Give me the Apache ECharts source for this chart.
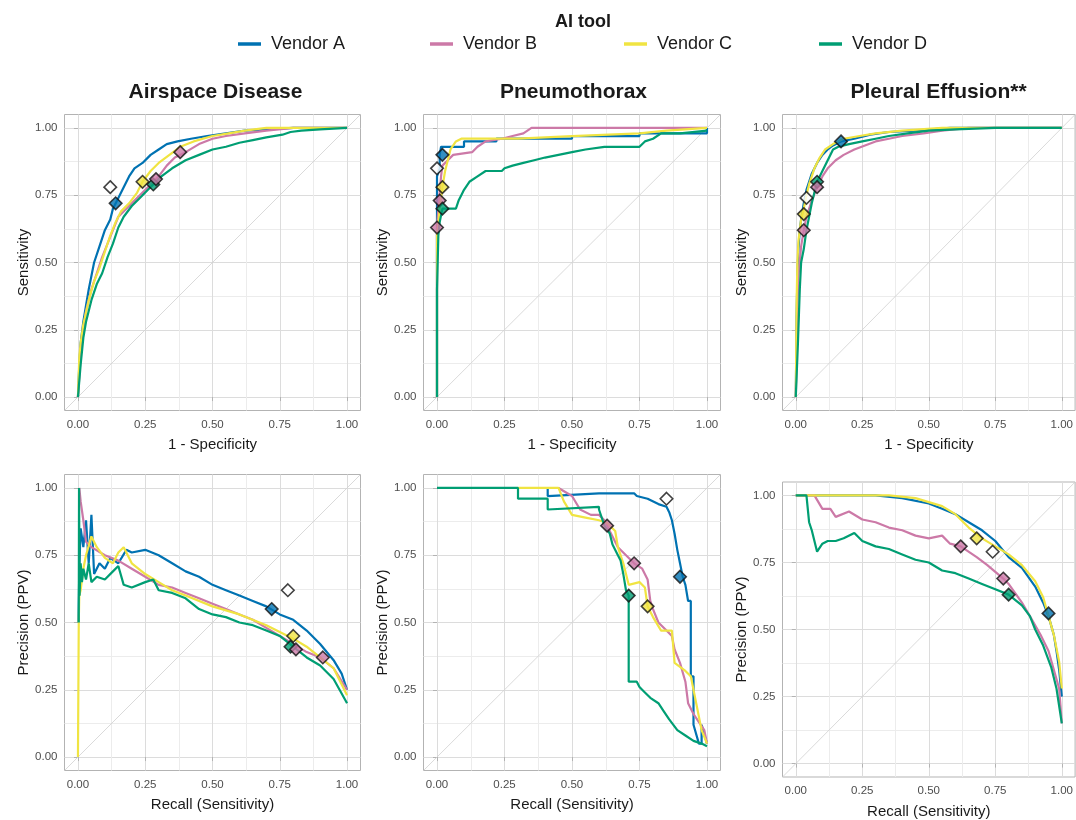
<!DOCTYPE html>
<html><head><meta charset="utf-8">
<script src="https://cdn.jsdelivr.net/npm/echarts@6/dist/echarts.min.js"></script>
<style>html,body{margin:0;padding:0;background:#fff}#c{width:1076px;height:820px}</style>
</head><body><div id="c"></div>
<script>
// ---------- DATA ----------
const vendors = ['Vendor A', 'Vendor B', 'Vendor C', 'Vendor D'];
const panelTitles = ['Airspace Disease', 'Pneumothorax', 'Pleural Effusion**'];
const xNames = ['1 - Specificity', 'Recall (Sensitivity)'];
const yNames = ['Sensitivity', 'Precision (PPV)'];
const tickValues = [0, 0.25, 0.5, 0.75, 1];
const minorGridValues = [0.125, 0.375, 0.625, 0.875];

// ROC - Airspace Disease
const rocAirA = [[0,0],[0.005,0.12],[0.01,0.2],[0.02,0.28],[0.03,0.34],[0.04,0.4],[0.05,0.45],[0.06,0.5],[0.08,0.56],[0.1,0.62],[0.12,0.66],[0.13,0.7],[0.15,0.74],[0.17,0.78],[0.19,0.82],[0.21,0.85],[0.24,0.87],[0.27,0.9],[0.3,0.92],[0.33,0.94],[0.37,0.95],[0.42,0.96],[0.48,0.97],[0.55,0.98],[0.62,0.99],[0.7,0.995],[0.8,1],[1,1]];
const rocAirB = [[0,0],[0.01,0.15],[0.02,0.25],[0.03,0.32],[0.05,0.4],[0.07,0.46],[0.09,0.52],[0.11,0.57],[0.13,0.62],[0.15,0.67],[0.18,0.7],[0.21,0.73],[0.24,0.76],[0.27,0.79],[0.3,0.82],[0.33,0.86],[0.36,0.89],[0.4,0.91],[0.45,0.94],[0.5,0.96],[0.55,0.97],[0.62,0.98],[0.7,0.99],[0.8,1],[1,1]];
const rocAirC = [[0,0],[0.005,0.15],[0.01,0.2],[0.02,0.27],[0.04,0.36],[0.06,0.43],[0.08,0.48],[0.1,0.54],[0.12,0.6],[0.14,0.65],[0.16,0.69],[0.19,0.72],[0.22,0.76],[0.24,0.8],[0.27,0.84],[0.3,0.87],[0.34,0.9],[0.38,0.93],[0.43,0.95],[0.5,0.97],[0.56,0.98],[0.62,0.99],[0.7,1],[1,1]];
const rocAirD = [[0,0],[0.01,0.12],[0.02,0.22],[0.03,0.28],[0.05,0.36],[0.07,0.42],[0.09,0.46],[0.11,0.52],[0.13,0.57],[0.15,0.63],[0.17,0.67],[0.2,0.71],[0.23,0.74],[0.26,0.77],[0.28,0.79],[0.31,0.82],[0.35,0.85],[0.4,0.88],[0.45,0.9],[0.5,0.92],[0.55,0.93],[0.6,0.945],[0.65,0.955],[0.7,0.965],[0.76,0.975],[0.79,0.985],[0.83,0.99],[0.9,0.995],[1,1]];
// ROC - Pneumothorax
const rocPnxA = [[0,0],[0,0.6],[0,0.82],[0.01,0.85],[0.01,0.9],[0.015,0.93],[0.1,0.93],[0.1,0.95],[0.22,0.95],[0.22,0.96],[0.5,0.96],[0.5,0.97],[0.75,0.97],[0.75,0.98],[1,0.98],[1,1]];
const rocPnxB = [[0,0],[0,0.55],[0,0.63],[0.005,0.7],[0.01,0.76],[0.015,0.82],[0.02,0.86],[0.04,0.88],[0.06,0.9],[0.13,0.91],[0.15,0.93],[0.18,0.95],[0.24,0.96],[0.28,0.97],[0.32,0.98],[0.35,1],[1,1]];
const rocPnxC = [[0,0],[0,0.6],[0.01,0.7],[0.02,0.78],[0.03,0.84],[0.04,0.88],[0.05,0.92],[0.07,0.95],[0.09,0.96],[0.3,0.96],[0.5,0.97],[0.75,0.98],[0.85,0.99],[1,1]];
const rocPnxD = [[0,0],[0,0.4],[0.005,0.6],[0.01,0.65],[0.02,0.7],[0.07,0.7],[0.08,0.73],[0.09,0.75],[0.1,0.77],[0.12,0.8],[0.15,0.82],[0.18,0.84],[0.24,0.84],[0.25,0.85],[0.28,0.86],[0.32,0.87],[0.36,0.88],[0.4,0.89],[0.45,0.9],[0.5,0.91],[0.55,0.92],[0.62,0.93],[0.75,0.93],[0.77,0.95],[0.8,0.96],[0.83,0.98],[0.9,0.98],[1,0.99]];
// ROC - Pleural Effusion
const rocPleA = [[0,0],[0.003,0.3],[0.006,0.45],[0.01,0.55],[0.015,0.62],[0.02,0.66],[0.03,0.72],[0.04,0.77],[0.05,0.8],[0.06,0.83],[0.08,0.87],[0.1,0.9],[0.12,0.92],[0.14,0.935],[0.17,0.95],[0.22,0.96],[0.28,0.975],[0.35,0.985],[0.45,0.99],[0.58,1],[1,1]];
const rocPleB = [[0,0],[0.005,0.3],[0.01,0.45],[0.02,0.56],[0.03,0.62],[0.04,0.67],[0.06,0.73],[0.08,0.78],[0.1,0.82],[0.12,0.85],[0.15,0.88],[0.18,0.9],[0.22,0.92],[0.26,0.935],[0.3,0.95],[0.35,0.96],[0.4,0.97],[0.48,0.98],[0.55,0.99],[0.65,1],[1,1]];
const rocPleC = [[0,0],[0.003,0.35],[0.006,0.5],[0.01,0.58],[0.02,0.66],[0.03,0.7],[0.04,0.75],[0.05,0.79],[0.07,0.85],[0.09,0.89],[0.11,0.92],[0.14,0.94],[0.18,0.96],[0.24,0.97],[0.3,0.98],[0.4,0.99],[0.55,1],[1,1]];
const rocPleD = [[0,0],[0.008,0.2],[0.015,0.4],[0.02,0.5],[0.03,0.55],[0.04,0.62],[0.05,0.67],[0.06,0.72],[0.07,0.76],[0.08,0.8],[0.1,0.84],[0.12,0.88],[0.14,0.92],[0.16,0.93],[0.2,0.94],[0.25,0.95],[0.3,0.96],[0.35,0.97],[0.42,0.98],[0.5,0.99],[0.6,0.995],[0.75,1],[1,1]];
// PR - Airspace Disease
const prAirA = [[0.002,0.5],[0.005,0.7],[0.01,0.85],[0.02,0.78],[0.03,0.88],[0.04,0.72],[0.05,0.9],[0.06,0.68],[0.08,0.72],[0.1,0.7],[0.12,0.74],[0.15,0.72],[0.18,0.77],[0.2,0.76],[0.25,0.77],[0.3,0.75],[0.35,0.72],[0.4,0.69],[0.45,0.67],[0.5,0.64],[0.55,0.62],[0.6,0.6],[0.65,0.58],[0.7,0.56],[0.75,0.53],[0.8,0.51],[0.85,0.47],[0.9,0.42],[0.95,0.36],[0.98,0.31],[1,0.25]];
const prAirB = [[0.005,1],[0.01,0.95],[0.02,0.88],[0.03,0.8],[0.05,0.78],[0.1,0.75],[0.15,0.73],[0.2,0.7],[0.25,0.67],[0.3,0.64],[0.35,0.63],[0.4,0.61],[0.45,0.59],[0.5,0.57],[0.55,0.55],[0.6,0.53],[0.65,0.51],[0.7,0.48],[0.75,0.45],[0.8,0.42],[0.85,0.39],[0.9,0.37],[0.95,0.33],[1,0.25]];
const prAirC = [[0,0],[0.003,0.5],[0.005,0.6],[0.01,0.62],[0.02,0.7],[0.03,0.75],[0.05,0.82],[0.07,0.78],[0.1,0.74],[0.13,0.72],[0.15,0.76],[0.17,0.78],[0.2,0.72],[0.25,0.68],[0.3,0.65],[0.35,0.62],[0.4,0.6],[0.5,0.56],[0.6,0.53],[0.7,0.49],[0.8,0.44],[0.85,0.41],[0.9,0.37],[0.95,0.33],[1,0.23]];
const prAirD = [[0.003,0.5],[0.004,1],[0.006,0.6],[0.01,0.72],[0.015,0.65],[0.02,0.7],[0.03,0.66],[0.04,0.72],[0.05,0.65],[0.07,0.67],[0.1,0.66],[0.13,0.69],[0.15,0.71],[0.17,0.64],[0.2,0.63],[0.25,0.65],[0.28,0.66],[0.3,0.62],[0.35,0.61],[0.4,0.59],[0.45,0.55],[0.5,0.53],[0.55,0.52],[0.6,0.5],[0.65,0.49],[0.7,0.47],[0.75,0.45],[0.8,0.41],[0.85,0.37],[0.9,0.34],[0.95,0.29],[1,0.2]];
// PR - Pneumothorax
const prPnxA = [[0.41,1],[0.41,0.97],[0.6,0.98],[0.73,0.98],[0.74,0.97],[0.78,0.96],[0.82,0.94],[0.85,0.93],[0.86,0.91],[0.87,0.88],[0.88,0.83],[0.89,0.77],[0.9,0.72],[0.91,0.67],[0.92,0.64],[0.93,0.58],[0.94,0.58],[0.94,0.3],[0.95,0.3],[0.95,0.12],[0.97,0.05],[0.98,0.05],[0.98,0.12],[1,0.05]];
const prPnxB = [[0.45,1],[0.5,0.97],[0.53,0.92],[0.57,0.9],[0.6,0.9],[0.62,0.88],[0.63,0.86],[0.65,0.82],[0.67,0.78],[0.7,0.75],[0.73,0.72],[0.76,0.7],[0.78,0.66],[0.79,0.58],[0.8,0.55],[0.82,0.5],[0.85,0.47],[0.87,0.45],[0.88,0.4],[0.9,0.35],[0.92,0.28],[0.93,0.2],[0.95,0.16],[0.97,0.13],[0.99,0.1],[1,0.05]];
const prPnxC = [[0.3,1],[0.45,1],[0.47,0.95],[0.5,0.9],[0.55,0.89],[0.6,0.88],[0.63,0.87],[0.66,0.84],[0.67,0.78],[0.69,0.72],[0.71,0.64],[0.75,0.65],[0.77,0.63],[0.78,0.56],[0.8,0.52],[0.83,0.47],[0.87,0.47],[0.88,0.35],[0.92,0.32],[0.94,0.3],[0.96,0.2],[0.98,0.1],[1,0.05]];
const prPnxD = [[0,1],[0.3,1],[0.3,0.96],[0.41,0.96],[0.41,0.92],[0.6,0.93],[0.6,0.92],[0.62,0.86],[0.64,0.83],[0.65,0.79],[0.67,0.75],[0.68,0.73],[0.69,0.68],[0.7,0.62],[0.71,0.6],[0.71,0.28],[0.74,0.28],[0.75,0.26],[0.77,0.24],[0.79,0.22],[0.82,0.2],[0.84,0.17],[0.86,0.14],[0.89,0.1],[0.92,0.08],[0.95,0.06],[0.98,0.05],[1,0.04]];
// PR - Pleural Effusion
const prPleA = [[0,1],[0.3,1],[0.4,0.99],[0.5,0.97],[0.55,0.95],[0.6,0.93],[0.65,0.9],[0.7,0.87],[0.75,0.83],[0.8,0.77],[0.85,0.73],[0.9,0.66],[0.93,0.6],[0.95,0.55],[0.97,0.48],[0.98,0.42],[0.99,0.35],[1,0.25]];
const prPleB = [[0,1],[0.07,1],[0.1,0.95],[0.13,0.95],[0.15,0.92],[0.2,0.94],[0.25,0.91],[0.3,0.9],[0.35,0.88],[0.4,0.87],[0.45,0.85],[0.5,0.84],[0.55,0.85],[0.58,0.82],[0.62,0.81],[0.68,0.77],[0.72,0.74],[0.78,0.69],[0.8,0.67],[0.85,0.6],[0.88,0.55],[0.92,0.48],[0.95,0.42],[0.97,0.35],[0.99,0.28],[1,0.15]];
const prPleC = [[0,1],[0.35,1],[0.45,0.99],[0.55,0.96],[0.6,0.93],[0.65,0.88],[0.7,0.84],[0.75,0.81],[0.8,0.78],[0.85,0.74],[0.9,0.68],[0.93,0.62],[0.95,0.55],[0.97,0.48],[0.99,0.38],[1,0.28]];
const prPleD = [[0,1],[0.04,1],[0.05,0.9],[0.06,0.87],[0.07,0.83],[0.08,0.79],[0.1,0.82],[0.12,0.83],[0.15,0.83],[0.18,0.84],[0.22,0.86],[0.25,0.83],[0.3,0.81],[0.35,0.8],[0.4,0.78],[0.45,0.76],[0.5,0.75],[0.55,0.72],[0.6,0.71],[0.65,0.69],[0.7,0.67],[0.75,0.65],[0.8,0.63],[0.85,0.59],[0.88,0.55],[0.9,0.5],[0.93,0.44],[0.96,0.36],[0.98,0.28],[1,0.15]];

// Operating points: [x, y, group]  group 0-3 = vendor A-D, 4 = reference (white)
const opRocAir = [[0.12,0.78,4],[0.14,0.72,0],[0.24,0.80,2],[0.28,0.79,3],[0.29,0.81,1],[0.38,0.91,1]];
const opRocPnx = [[0.0,0.85,4],[0.02,0.90,0],[0.02,0.78,2],[0.01,0.73,1],[0.02,0.70,3],[0.0,0.63,1]];
const opRocPle = [[0.17,0.95,0],[0.08,0.80,3],[0.08,0.78,1],[0.04,0.74,4],[0.03,0.68,2],[0.03,0.62,1]];
const opPrAir = [[0.78,0.62,4],[0.72,0.55,0],[0.80,0.45,2],[0.79,0.41,3],[0.81,0.40,1],[0.91,0.37,1]];
const opPrPnx = [[0.85,0.96,4],[0.63,0.86,1],[0.73,0.72,1],[0.90,0.67,0],[0.71,0.60,3],[0.78,0.56,2]];
const opPrPle = [[0.68,0.84,2],[0.74,0.79,4],[0.62,0.81,1],[0.78,0.69,1],[0.80,0.63,3],[0.95,0.56,0]];

// ---------- BUILD ----------
const colors = ['#0072B2', '#CC79A7', '#F0E442', '#009E73', '#FFFFFF'];
const curves = [
  [rocAirA, rocAirB, rocAirC, rocAirD],
  [rocPnxA, rocPnxB, rocPnxC, rocPnxD],
  [rocPleA, rocPleB, rocPleC, rocPleD],
  [prAirA, prAirB, prAirC, prAirD],
  [prPnxA, prPnxB, prPnxC, prPnxD],
  [prPleA, prPleB, prPleC, prPleD]
];
const ops = [opRocAir, opRocPnx, opRocPle, opPrAir, opPrPnx, opPrPle];
const layout = [
  {left: 64.5, top: 114.5, width: 296, height: 296},
  {left: 423.5, top: 114.5, width: 297, height: 296},
  {left: 782.5, top: 114.5, width: 295, height: 296},
  {left: 64.5, top: 474.5, width: 296, height: 296},
  {left: 423.5, top: 474.5, width: 297, height: 296},
  {left: 782.5, top: 482, width: 295, height: 297}
];
const FONT = 'Liberation Sans, Arial, sans-serif';
const grids = [], xAxes = [], yAxes = [], series = [];
layout.forEach((g, i) => {
  const row = Math.floor(i / 3);
  grids.push(Object.assign({show: true, borderColor: '#b3b3b3', borderWidth: 1, backgroundColor: '#fff', containLabel: false}, g));
  const common = {
    type: 'value', min: -0.05, max: 1.05, gridIndex: i,
    axisLine: {show: false},
    axisTick: {show: true, customValues: tickValues, length: 4, lineStyle: {color: '#b3b3b3'}},
    axisLabel: {customValues: tickValues, color: '#4d4d4d', fontSize: 11.5, fontFamily: FONT,
      formatter: v => Number(v).toFixed(2)},
    splitLine: {show: true, lineStyle: {color: '#dcdcdc', width: 1}},
    nameLocation: 'middle',
    nameTextStyle: {color: '#1a1a1a', fontSize: 15, fontFamily: FONT}
  };
  xAxes.push(Object.assign({}, common, {name: xNames[row], nameGap: 27,
    axisLabel: Object.assign({}, common.axisLabel, {margin: 8})}));
  yAxes.push(Object.assign({}, common, {name: yNames[row], nameGap: 25,
    axisLabel: Object.assign({}, common.axisLabel, {margin: 7})}));
  series.push({
    type: 'line', xAxisIndex: i, yAxisIndex: i, silent: true, symbol: 'none', z: 1,
    data: [[-0.05, -0.05], [1.05, 1.05]],
    lineStyle: {color: '#d0d0d0', width: 0.8}
  });
  curves[i].forEach((d, v) => {
    series.push({
      name: vendors[v], type: 'line', xAxisIndex: i, yAxisIndex: i, symbol: 'none', showSymbol: false,
      data: d, z: 2 + v, clip: true,
      lineStyle: {color: colors[v], width: 2.2},
      itemStyle: {color: colors[v]}
    });
  });
  series.push({
    type: 'scatter', xAxisIndex: i, yAxisIndex: i, symbol: 'diamond', symbolSize: 12.5, z: 10,
    data: ops[i].map(p => ({value: [p[0], p[1]], itemStyle: {color: colors[p[2]], borderColor: '#111', borderWidth: 1.6}}))
  });
});
// minor grid axes (hidden labels/ticks, only split lines)
layout.forEach((g, i) => {
  const minor = {
    type: 'value', min: -0.05, max: 1.05, gridIndex: i,
    axisLine: {show: false}, axisLabel: {show: false},
    axisTick: {show: false, customValues: minorGridValues},
    splitLine: {show: true, lineStyle: {color: '#ececec', width: 1}}
  };
  xAxes.push(Object.assign({}, minor));
  yAxes.push(Object.assign({}, minor));
});

const titleCenters = [210.5, 568.5, 933.5];
const titles = [{text: 'AI tool', left: 578, top: 8, textAlign: 'center',
  textStyle: {fontSize: 18, fontWeight: 'bold', color: '#1a1a1a', fontFamily: FONT}}];
panelTitles.forEach((t, i) => titles.push({text: t, left: titleCenters[i], top: 77, textAlign: 'center',
  textStyle: {fontSize: 21, fontWeight: 'bold', color: '#1a1a1a', fontFamily: FONT}}));

const legendLefts = [233, 425, 619, 814];
const legends = vendors.map((v, k) => ({
  data: [v], left: legendLefts[k], top: 30, icon: 'rect', itemWidth: 23, itemHeight: 3.5,
  selectedMode: false,
  textStyle: {fontSize: 18, color: '#1a1a1a', fontFamily: FONT, padding: [0, 0, 0, 5]}
}));

const chart = echarts.init(document.getElementById('c'), null, {renderer: 'canvas'});
chart.setOption({
  animation: false, backgroundColor: '#fff',
  title: titles, legend: legends,
  grid: grids, xAxis: xAxes, yAxis: yAxes, series: series
});
</script></body></html>
